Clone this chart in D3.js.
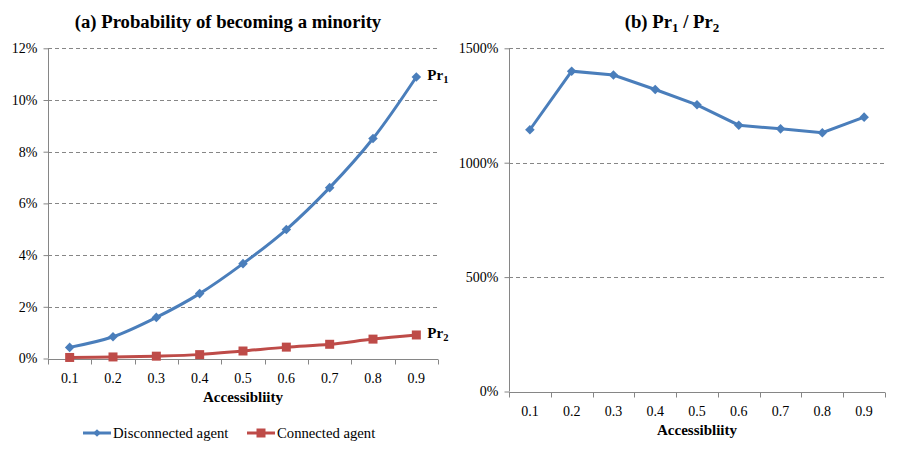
<!DOCTYPE html>
<html>
<head>
<meta charset="utf-8">
<script src="https://cdn.jsdelivr.net/npm/d3@7"></script>
<style>
  body { margin: 0; background: #fff; }
  svg, svg text { font-family: "Liberation Serif", "Times New Roman", serif; }
  .grid line { stroke: #868686; stroke-dasharray: 4,3; }
  .axis path, .axis line { stroke: #868686; }
  .axis text { font-size: 14px; fill: #000; font-family: "Liberation Serif", "Times New Roman", serif; }
</style>
</head>
<body>
<svg id="chart" width="900" height="454"></svg>
<script>
// Datos
const accessibility = ["0.1", "0.2", "0.3", "0.4", "0.5", "0.6", "0.7", "0.8", "0.9"];
const disconnected = [0.43, 0.84, 1.59, 2.51, 3.67, 4.99, 6.61, 8.51, 10.89]; // %
const connected = [0.04, 0.06, 0.09, 0.15, 0.29, 0.44, 0.55, 0.75, 0.91]; // %
const ratio = [1144, 1400, 1383, 1320, 1253, 1164, 1148, 1131, 1199]; // %
const ticksA = [0, 2, 4, 6, 8, 10, 12];
const ticksB = [0, 500, 1000, 1500];

const blue = "#4a7ebb";
const red = "#be4b48";

const svg = d3.select("#chart");

// Marcadores: rombo = cuadrado girado 45°
const diamond = { type: d3.symbolSquare, size: 46, rotate: 45 };
const square = { type: d3.symbolSquare, size: 81, rotate: 0 };

// Dibujar un panel
function drawPanel(opts) {
    const x = d3.scaleBand().domain(accessibility).range([opts.x0, opts.x1]);
    const y = d3.scaleLinear().domain([0, opts.max]).range([opts.y0, opts.y1]);

    // Líneas de cuadrícula
    svg.append("g")
        .attr("class", "grid")
        .selectAll("line")
        .data(opts.ticks.filter(d => d > 0))
        .enter()
        .append("line")
        .attr("x1", opts.x0)
        .attr("x2", opts.x1)
        .attr("y1", d => Math.round(y(d)) + 0.5)
        .attr("y2", d => Math.round(y(d)) + 0.5);

    // Eje Y
    const yAxis = svg.append("g")
        .attr("class", "axis")
        .attr("transform", `translate(${opts.x0 + 0.5},0)`)
        .call(d3.axisLeft(y).tickValues(opts.ticks).tickSize(5).tickPadding(6).tickFormat(d => d + "%"));
    yAxis.select(".domain").attr("d", `M0,${opts.y0}V${opts.y1}`);

    // Eje X con marcas en los límites de las categorías
    const xAxis = svg.append("g")
        .attr("class", "axis")
        .attr("transform", `translate(0,${Math.round(opts.y0) + 0.5})`)
        .call(d3.axisBottom(x).tickSize(0).tickPadding(14));
    xAxis.select(".domain").attr("d", `M${opts.x0},0H${opts.x1}`);
    xAxis.selectAll(".bound")
        .data(d3.range(accessibility.length + 1))
        .enter()
        .append("line")
        .attr("x1", i => Math.round(opts.x0 + i * x.step()) + 0.5)
        .attr("x2", i => Math.round(opts.x0 + i * x.step()) + 0.5)
        .attr("y1", 0)
        .attr("y2", 5);

    // Título del eje
    svg.append("text")
        .attr("x", (opts.x0 + opts.x1) / 2)
        .attr("y", opts.y0 + 43)
        .attr("text-anchor", "middle")
        .attr("font-size", 15)
        .attr("font-weight", "bold")
        .text("Accessibliity");

    const cx = d => x(d) + x.bandwidth() / 2;
    return { x, y, cx };
}

function drawSeries(panel, values, color, curve, marker) {
    const line = d3.line()
        .x((d, i) => panel.cx(accessibility[i]))
        .y(d => panel.y(d))
        .curve(curve);

    svg.append("path")
        .datum(values)
        .attr("fill", "none")
        .attr("stroke", color)
        .attr("stroke-width", 3)
        .attr("d", line);

    svg.selectAll(null)
        .data(values)
        .enter()
        .append("path")
        .attr("d", d3.symbol().type(marker.type).size(marker.size))
        .attr("fill", color)
        .attr("transform", (d, i) => `translate(${panel.cx(accessibility[i])},${panel.y(d)}) rotate(${marker.rotate})`);
}

// Panel (a)
const pa = drawPanel({ x0: 48, x1: 438, y0: 358.5, y1: 48.3, max: 12, ticks: ticksA });
drawSeries(pa, connected, red, d3.curveCatmullRom, square);
drawSeries(pa, disconnected, blue, d3.curveCatmullRom, diamond);

svg.append("text")
    .attr("x", 228)
    .attr("y", 28)
    .attr("text-anchor", "middle")
    .attr("font-size", 18.7)
    .attr("font-weight", "bold")
    .text("(a) Probability of becoming a minority");

// Etiquetas Pr1 / Pr2
function prLabel(x, y, sub) {
    const t = svg.append("text")
        .attr("x", x)
        .attr("y", y)
        .attr("font-size", 15)
        .attr("font-weight", "bold");
    t.append("tspan").text("Pr");
    t.append("tspan").attr("font-size", 10.5).attr("dy", 3).text(sub);
}
prLabel(pa.cx("0.9") + 11, pa.y(disconnected[8]) + 3, "1");
prLabel(pa.cx("0.9") + 11, pa.y(connected[8]) + 3, "2");

// Leyenda
const legend = svg.append("g").attr("transform", "translate(0,433)");
[
    { label: "Disconnected agent", color: blue, marker: { type: d3.symbolSquare, size: 30, rotate: 45 }, x: 83 },
    { label: "Connected agent", color: red, marker: square, x: 247 }
].forEach(d => {
    legend.append("line")
        .attr("x1", d.x).attr("x2", d.x + 28)
        .attr("y1", 0).attr("y2", 0)
        .attr("stroke", d.color)
        .attr("stroke-width", 3);
    legend.append("path")
        .attr("d", d3.symbol().type(d.marker.type).size(d.marker.size))
        .attr("fill", d.color)
        .attr("transform", `translate(${d.x + 14},0) rotate(${d.marker.rotate})`);
    legend.append("text")
        .attr("x", d.x + 30)
        .attr("y", 5)
        .attr("font-size", 14.7)
        .text(d.label);
});

// Panel (b)
const pb = drawPanel({ x0: 509, x1: 885, y0: 391.5, y1: 48.3, max: 1500, ticks: ticksB });
drawSeries(pb, ratio, blue, d3.curveLinear, diamond);

const tb = svg.append("text")
    .attr("x", 672)
    .attr("y", 28)
    .attr("text-anchor", "middle")
    .attr("font-size", 18.7)
    .attr("font-weight", "bold");
tb.append("tspan").text("(b) Pr");
tb.append("tspan").attr("font-size", 13).attr("dy", 4).text("1");
tb.append("tspan").attr("dy", -4).text(" / Pr");
tb.append("tspan").attr("font-size", 13).attr("dy", 4).text("2");
</script>
</body>
</html>
